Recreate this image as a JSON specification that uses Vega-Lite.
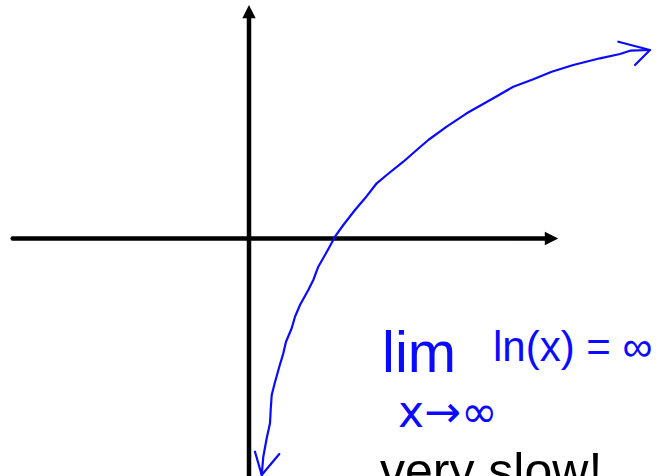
{
  "$schema": "https://vega.github.io/schema/vega-lite/v6.json",
  "width": 658,
  "height": 476,
  "autosize": {"type": "none"},
  "padding": 0,
  "background": "white",
  "config": {"view": {"stroke": null}},
  "datasets": {
    "axes": [
      {"axis": "x", "o": 0, "x": -2.7477, "y": 0},
      {"axis": "x", "o": 1, "x": 3.4535, "y": 0},
      {"axis": "y", "o": 0, "x": 0, "y": 2.564},
      {"axis": "y", "o": 1, "x": 0, "y": -2.9}
    ],
    "heads": [
      {"dir": "right", "x": 3.5174, "y": 0},
      {"dir": "up", "x": 0, "y": 2.6378}
    ],
    "curve": [
      {"part": "curve", "o": 0, "x": 0.1477, "y": -2.75},
      {"part": "curve", "o": 1, "x": 0.1663, "y": -2.537},
      {"part": "curve", "o": 2, "x": 0.2058, "y": -2.323},
      {"part": "curve", "o": 3, "x": 0.2442, "y": -2.149},
      {"part": "curve", "o": 4, "x": 0.2523, "y": -1.994},
      {"part": "curve", "o": 5, "x": 0.264, "y": -1.82},
      {"part": "curve", "o": 6, "x": 0.2965, "y": -1.692},
      {"part": "curve", "o": 7, "x": 0.3523, "y": -1.491},
      {"part": "curve", "o": 8, "x": 0.3988, "y": -1.335},
      {"part": "curve", "o": 9, "x": 0.4302, "y": -1.2},
      {"part": "curve", "o": 10, "x": 0.4965, "y": -1.044},
      {"part": "curve", "o": 11, "x": 0.5349, "y": -0.9093},
      {"part": "curve", "o": 12, "x": 0.593, "y": -0.7733},
      {"part": "curve", "o": 13, "x": 0.6895, "y": -0.5988},
      {"part": "curve", "o": 14, "x": 0.7477, "y": -0.4826},
      {"part": "curve", "o": 15, "x": 0.8058, "y": -0.3279},
      {"part": "curve", "o": 16, "x": 0.8837, "y": -0.1919},
      {"part": "curve", "o": 17, "x": 0.9419, "y": -0.0872},
      {"part": "curve", "o": 18, "x": 1.0, "y": 0.0209},
      {"part": "curve", "o": 19, "x": 1.0965, "y": 0.157},
      {"part": "curve", "o": 20, "x": 1.2326, "y": 0.3314},
      {"part": "curve", "o": 21, "x": 1.3488, "y": 0.4674},
      {"part": "curve", "o": 22, "x": 1.4849, "y": 0.6419},
      {"part": "curve", "o": 23, "x": 1.6012, "y": 0.7384},
      {"part": "curve", "o": 24, "x": 1.7942, "y": 0.893},
      {"part": "curve", "o": 25, "x": 1.95, "y": 1.0291},
      {"part": "curve", "o": 26, "x": 2.0849, "y": 1.1453},
      {"part": "curve", "o": 27, "x": 2.2988, "y": 1.3},
      {"part": "curve", "o": 28, "x": 2.5314, "y": 1.4558},
      {"part": "curve", "o": 29, "x": 2.8407, "y": 1.6302},
      {"part": "curve", "o": 30, "x": 3.0733, "y": 1.7651},
      {"part": "curve", "o": 31, "x": 3.3058, "y": 1.8512},
      {"part": "curve", "o": 32, "x": 3.5198, "y": 1.9395},
      {"part": "curve", "o": 33, "x": 3.7709, "y": 2.0174},
      {"part": "curve", "o": 34, "x": 4.0814, "y": 2.0953},
      {"part": "curve", "o": 35, "x": 4.314, "y": 2.1453},
      {"part": "curve", "o": 36, "x": 4.4302, "y": 2.1837},
      {"part": "curve", "o": 37, "x": 4.6628, "y": 2.1919},
      {"part": "top", "o": 0, "x": 4.2942, "y": 2.2884},
      {"part": "top", "o": 1, "x": 4.6628, "y": 2.1919},
      {"part": "top", "o": 2, "x": 4.4884, "y": 2.0174},
      {"part": "bottom", "o": 0, "x": 0.0698, "y": -2.4791},
      {"part": "bottom", "o": 1, "x": 0.1477, "y": -2.75},
      {"part": "bottom", "o": 2, "x": 0.3523, "y": -2.5058}
    ],
    "lim": [
      {"label": "lim", "x": 1.5465, "y": -1.552}
    ],
    "expr": [
      {"label": "ln(x) = ∞", "x": 2.8372, "y": -1.42}
    ],
    "sub": [
      {"label": "x→∞", "x": 1.7326, "y": -2.19}
    ],
    "note": [
      {"label": "very slow!", "x": 1.5233, "y": -2.9}
    ]
  },
  "encoding": {
    "x": {"field": "x", "type": "quantitative", "scale": {"domain": [-2.8953, 4.7558], "nice": false, "zero": false}, "axis": null},
    "y": {"field": "y", "type": "quantitative", "scale": {"domain": [-2.7616, 2.7733], "nice": false, "zero": false}, "axis": null}
  },
  "layer": [
    {
      "data": {"name": "axes"},
      "mark": {"type": "line", "color": "black", "strokeWidth": 4.5, "strokeCap": "round"},
      "encoding": {"detail": {"field": "axis"}, "order": {"field": "o"}}
    },
    {
      "data": {"name": "heads"},
      "mark": {"type": "point", "filled": true, "color": "black", "opacity": 1, "size": 180},
      "encoding": {
        "shape": {"field": "dir", "type": "nominal", "scale": {"domain": ["right", "up"], "range": ["M-1,-1L1,0L-1,1Z", "M-1,1L0,-1L1,1Z"]}, "legend": null}
      }
    },
    {
      "data": {"name": "curve"},
      "mark": {"type": "line", "color": "#0a0aff", "strokeWidth": 2.2, "strokeCap": "round", "strokeJoin": "round"},
      "encoding": {"detail": {"field": "part"}, "order": {"field": "o"}}
    },
    {
      "data": {"name": "lim"},
      "mark": {"type": "text", "color": "#0a0aff", "font": "Liberation Sans", "fontSize": 58, "align": "left", "baseline": "alphabetic"},
      "encoding": {"text": {"field": "label"}}
    },
    {
      "data": {"name": "expr"},
      "mark": {"type": "text", "color": "#0a0aff", "font": "Liberation Sans", "fontSize": 42, "align": "left", "baseline": "alphabetic"},
      "encoding": {"text": {"field": "label"}}
    },
    {
      "data": {"name": "sub"},
      "mark": {"type": "text", "color": "#0a0aff", "font": "DejaVu Sans", "fontSize": 44, "align": "left", "baseline": "alphabetic"},
      "encoding": {"text": {"field": "label"}}
    },
    {
      "data": {"name": "note"},
      "mark": {"type": "text", "color": "black", "font": "Liberation Sans", "fontSize": 50, "align": "left", "baseline": "alphabetic"},
      "encoding": {"text": {"field": "label"}}
    }
  ]
}
